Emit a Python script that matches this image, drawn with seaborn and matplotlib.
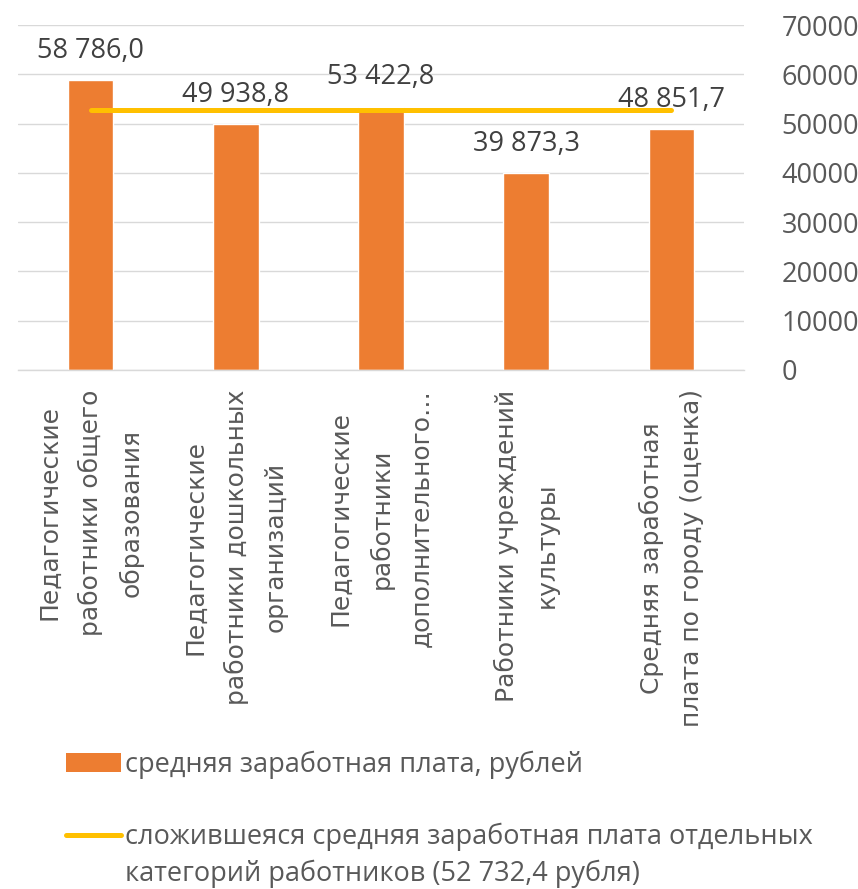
import numpy as np
import matplotlib
matplotlib.use("Agg")
import matplotlib.pyplot as plt
import seaborn as sns
from matplotlib.patches import Patch
from matplotlib.lines import Line2D

categories = [
    "Педагогические\nработники общего\nобразования",
    "Педагогические\nработники дошкольных\nорганизаций",
    "Педагогические\nработники\nдополнительного…",
    "Работники учреждений\nкультуры",
    "Средняя заработная\nплата по городу (оценка)",
]
salaries = [58786.0, 49938.8, 53422.8, 39873.3, 48851.7]
avg_line = [52732.4, 52732.4, 52732.4, 52732.4, 52732.4]
yticks = [0, 10000, 20000, 30000, 40000, 50000, 60000, 70000]
bar_label_name = "средняя заработная плата, рублей"
line_label_lines = ["сложившеяся средняя заработная плата отдельных",
                    "категорий работников (52 732,4 рубля)"]

BAR_C = "#ED7D31"
LINE_C = "#FFC000"
GRID_C = "#D9D9D9"
TXT_C = "#595959"
LBL_C = "#404040"

sns.set_theme(style="white")
plt.rcParams["font.family"] = ["Open Sans", "DejaVu Sans"]

W, H = 858, 889
fig = plt.figure(figsize=(W / 100, H / 100), dpi=100)
ax = fig.add_axes([18 / W, 1 - 370 / H, (744 - 18) / W, (370 - 25) / H])

positions = list(range(len(categories)))
sns.barplot(x=positions, y=salaries, color=BAR_C, saturation=1, width=0.315,
            ax=ax, zorder=2)
sns.lineplot(x=positions, y=avg_line, color=LINE_C, linewidth=3.6, ax=ax,
             zorder=3, solid_capstyle="round")

labels = [f"{v:,.1f}".replace(",", " ").replace(".", ",") for v in salaries]
ax.bar_label(ax.containers[0], labels=labels, padding=11, fontsize=19.5,
             color=LBL_C, zorder=4)

ax.set_ylim(0, 70000)
ax.set_xlim(-0.5, len(categories) - 0.5)
ax.set_yticks(yticks)
ax.yaxis.tick_right()
ax.set_yticklabels([str(t) for t in yticks])
ax.tick_params(axis="y", length=0, pad=27, labelsize=19.5, labelcolor=TXT_C)
ax.grid(axis="y", color=GRID_C, linewidth=1.0, zorder=0)
ax.set_axisbelow(True)

ax.set_xticks(positions)
ax.set_xticklabels(categories, rotation=90, fontsize=18, color=TXT_C,
                   family="DejaVu Sans", linespacing=1.8, ha="center",
                   va="top", multialignment="center")
ax.tick_params(axis="x", which="major", length=0, pad=14)
ax.set_xticks([p - 0.5 for p in positions] + [positions[-1] + 0.5], minor=True)
ax.tick_params(axis="x", which="minor", length=7, color=GRID_C, width=1)
ax.set_xlabel("")
ax.set_ylabel("")

for s in ["top", "left", "right"]:
    ax.spines[s].set_visible(False)
ax.spines["bottom"].set_color(GRID_C)
ax.spines["bottom"].set_linewidth(1.0)

handles = [Patch(facecolor=BAR_C, edgecolor="none"),
           Line2D([0], [0], color=LINE_C, linewidth=3.6, solid_capstyle="round")]
leg = fig.legend(handles, [bar_label_name, line_label_lines[0]],
                 loc="upper left", bbox_to_anchor=(55 / W, 1 - 740 / H),
                 frameon=False, fontsize=19.5, labelcolor=TXT_C,
                 handlelength=2.05, handleheight=0.7, handletextpad=0.15,
                 labelspacing=1.62, borderaxespad=0)

fig.canvas.draw()
bb = leg.get_texts()[1].get_window_extent()
fig.text(bb.x0 / W, (bb.y0 - 37) / H, line_label_lines[1], fontsize=19.5,
         color=TXT_C, ha="left", va="bottom")

fig.savefig("out.png", dpi=100)
